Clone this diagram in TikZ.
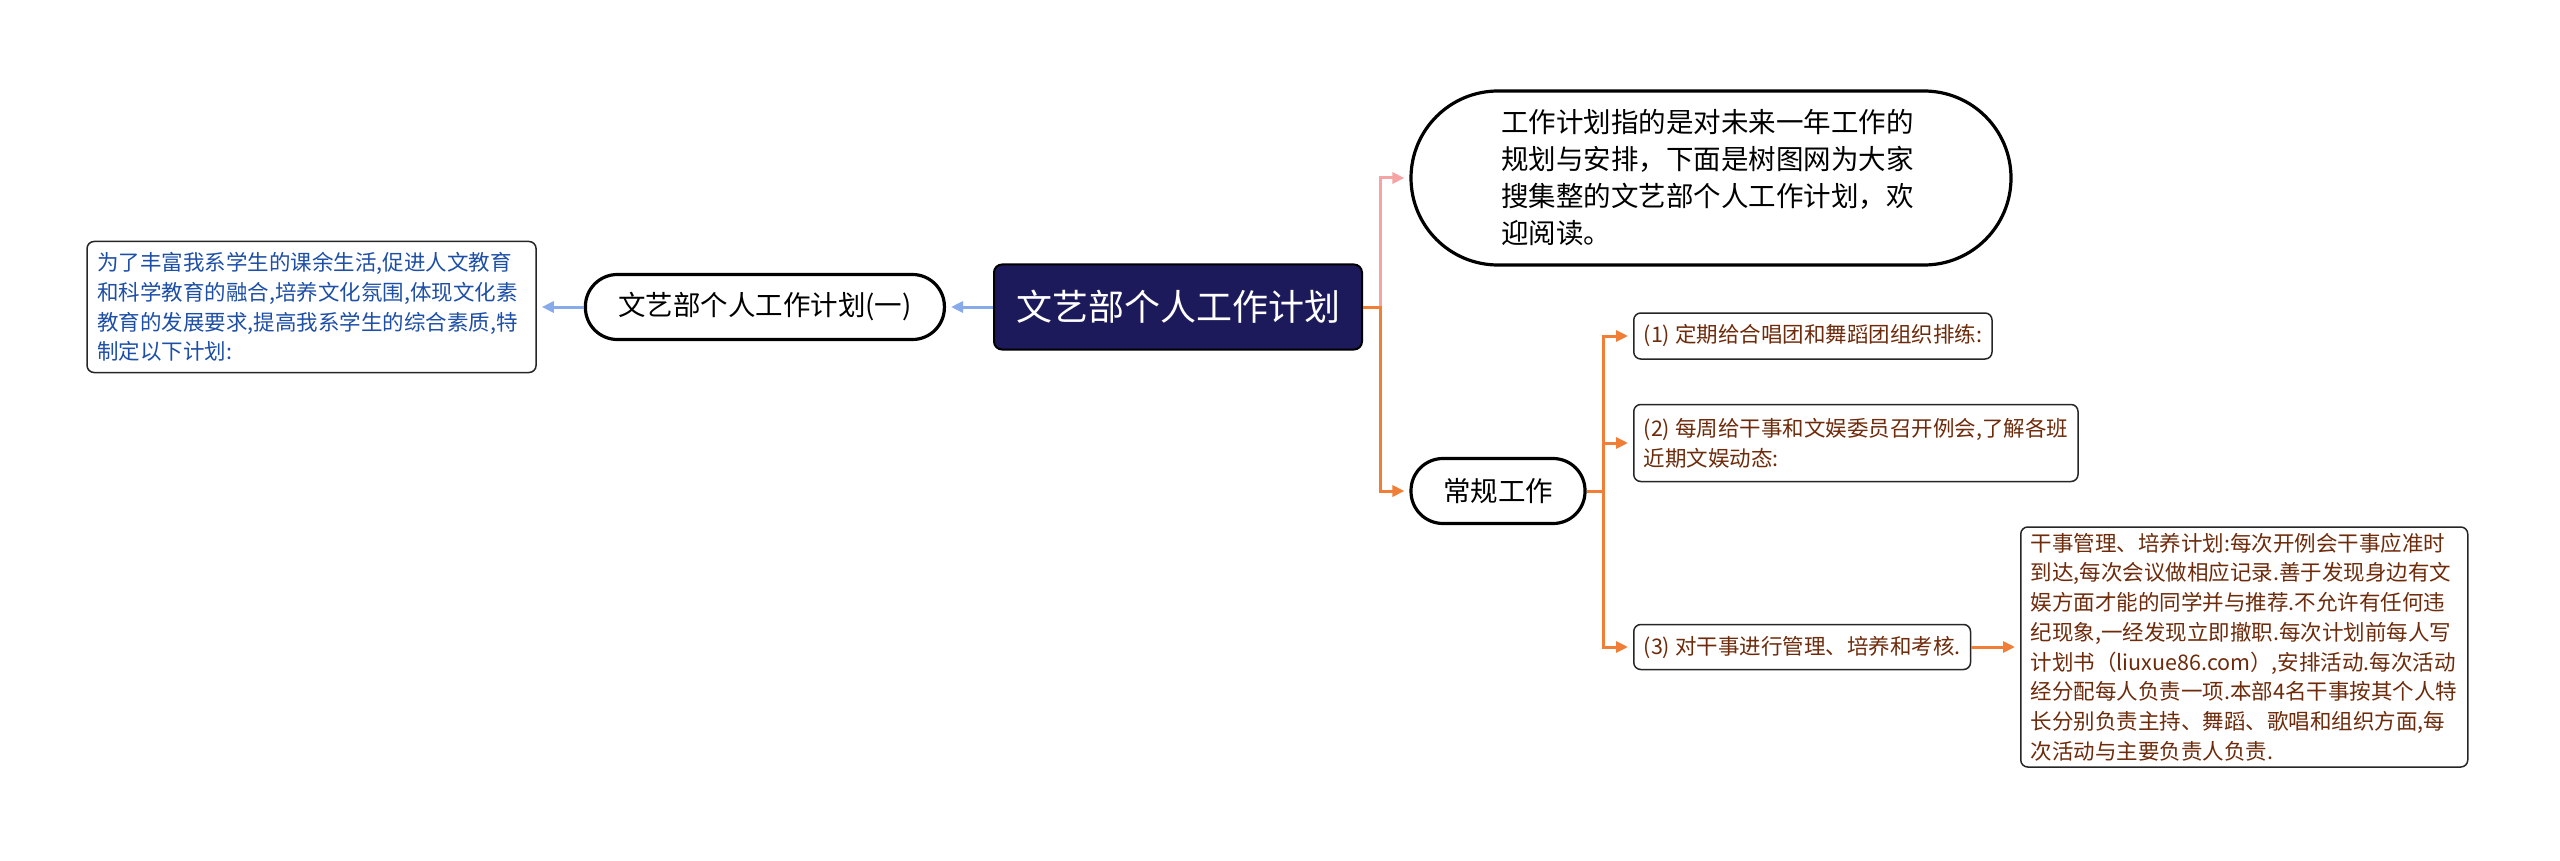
\documentclass[tikz,border=0pt]{standalone}
\usepackage{fontspec}
\setmainfont{Noto Sans CJK SC}
\usepackage{xcolor}
\definecolor{planroot}{HTML}{1D1A5B}
\definecolor{planblue}{HTML}{86AAEA}
\definecolor{planpink}{HTML}{F5A3A3}
\definecolor{planorange}{HTML}{F07E36}
\definecolor{plantxtblue}{HTML}{1E4FA6}
\definecolor{plantxtbrown}{HTML}{6E2B0B}
\usetikzlibrary{arrows.meta,positioning,calc}
\tikzset{
  planmain/.style={draw=black,line width=2pt,rounded corners=8pt,fill=planroot,text=white,font=\fontsize{36}{42}\selectfont,minimum width=368pt,minimum height=85pt,inner sep=0pt},
  planpill/.style={draw=black,line width=3.2pt,rounded corners=32pt,fill=white,font=\fontsize{27.5}{37}\selectfont,minimum height=65pt,inner sep=0pt},
  planleaf/.style={draw=black!85,line width=1.5pt,rounded corners=7pt,fill=white,align=left,font=\fontsize{21.5}{29.7}\selectfont,inner xsep=10pt,inner ysep=5pt},
  planflow/.style={-{Triangle[length=12pt,width=11pt]},line width=3pt,shorten >=5pt},
}

\begin{document}
\begin{tikzpicture}[x=1pt,y=1pt]
\useasboundingbox[fill=white] (0,0) rectangle (2560,-861);

\node[planmain] (root) at (1178,-307) {文艺部个人工作计划};
\node[planpill,minimum width=359pt,left=47pt of root] (sub){文艺部个人工作计划(一)};
\node[planleaf,text=plantxtblue,text width=429pt,minimum height=131pt,left=47pt of sub] (leaf){为了丰富我系学生的课余生活,促进人文教育\\和科学教育的融合,培养文化氛围,体现文化素\\教育的发展要求,提高我系学生的综合素质,特\\制定以下计划:};

\node[planpill,rounded corners=87pt,minimum width=600pt,minimum height=174pt,text width=420pt,align=left] (intro) at (1711,-178) {工作计划指的是对未来一年工作的\\规划与安排，下面是树图网为大家\\搜集整的文艺部个人工作计划，欢\\迎阅读。};
\node[planpill,minimum width=174pt] (routine) at (1498,-491) {常规工作};

\node[planleaf,text=plantxtbrown,minimum height=46pt,anchor=west] (i1) at (1633,-336) {(1) 定期给合唱团和舞蹈团组织排练:};
\node[planleaf,text=plantxtbrown,minimum height=77pt,anchor=west] (i2) at (1633,-443) {(2) 每周给干事和文娱委员召开例会,了解各班\\近期文娱动态:};
\node[planleaf,text=plantxtbrown,minimum height=45pt,anchor=west] (i3) at (1633,-647) {(3) 对干事进行管理、培养和考核.};
\node[planleaf,text=plantxtbrown,text width=427pt,minimum height=240pt,inner ysep=3pt,anchor=west] (plan) at (2020,-647) {干事管理、培养计划:每次开例会干事应准时\\到达,每次会议做相应记录.善于发现身边有文\\娱方面才能的同学并与推荐.不允许有任何违\\纪现象,一经发现立即撤职.每次计划前每人写\\计划书（liuxue86.com）,安排活动.每次活动\\经分配每人负责一项.本部4名干事按其个人特\\长分别负责主持、舞蹈、歌唱和组织方面,每\\次活动与主要负责人负责.};

% connectors
\coordinate (rj) at ([xshift=17pt]root.east);
\coordinate (cj) at ([xshift=17pt]routine.east);
\draw[planflow,planblue](root.west)--(sub.east);\draw[planflow,planblue](sub.west)--(leaf.east);
\draw[planflow,planpink](root.east)--(rj)|-(intro.west);
\draw[planflow,planorange](root.east)--(rj)|-(routine.west);
\draw[planflow,planorange](routine.east)--(cj)|-(i1.west);\draw[planflow,planorange](routine.east)--(cj)|-(i2.west);\draw[planflow,planorange](routine.east)--(cj)|-(i3.west);
\draw[planflow,planorange](i3.east)--(plan.west);
\end{tikzpicture}
\end{document}
